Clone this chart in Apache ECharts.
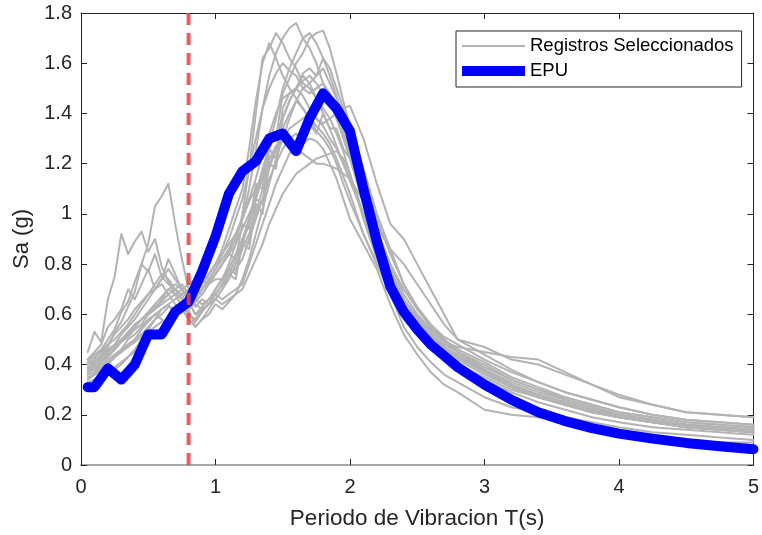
<!DOCTYPE html>
<html>
<head>
<meta charset="utf-8">
<script src="https://cdn.jsdelivr.net/npm/echarts@6/dist/echarts.min.js"></script>
<style>
html,body{margin:0;padding:0;background:#fff;}
#chart{width:762px;height:535px;}
</style>
</head>
<body>
<div id="chart"></div>
<script>
// ---- Data ----
const periods = [
  0.05,0.1,0.15,0.2,0.25,0.3,0.35,0.4,0.45,0.5,
  0.55,0.6,0.65,0.7,0.75,0.8,0.85,0.9,0.95,1.0,
  1.05,1.1,1.15,1.2,1.25,1.3,1.35,1.4,1.45,1.5,
  1.55,1.6,1.65,1.7,1.75,1.8,1.85,1.9,1.95,2.0,
  2.1,2.2,2.3,2.4,2.5,2.6,2.7,2.8,
  3.0,3.2,3.4,3.6,3.8,4.0,
  4.25,4.5,4.75,5.0];

const rec01 = [0.45,0.53,0.49,0.66,0.75,0.92,0.84,0.89,0.93,0.85, 0.90,0.79,0.73,0.68,0.63,0.60,0.57,0.61,0.64,0.66, 0.70,0.74,0.80,0.86,0.92,1.00,1.10,1.18,1.26,1.34, 1.40,1.45,1.42,1.38,1.33,1.30,1.26,1.20,1.12,1.05, 0.92,0.80,0.70,0.62,0.56,0.51,0.46,0.42, 0.36,0.31,0.27,0.24,0.21,0.19, 0.17,0.15,0.14,0.13];
const rec02 = [0.38,0.41,0.44,0.47,0.53,0.57,0.63,0.69,0.80,0.88, 1.03,1.07,1.12,0.96,0.82,0.70,0.63,0.66,0.64,0.70, 0.74,0.78,0.84,0.90,0.98,1.08,1.18,1.26,1.32,1.38, 1.45,1.50,1.55,1.52,1.46,1.40,1.34,1.27,1.20,1.13, 1.00,0.86,0.74,0.64,0.57,0.51,0.47,0.43, 0.37,0.31,0.27,0.24,0.21,0.19, 0.17,0.15,0.14,0.13];
const rec03 = [0.40,0.42,0.46,0.50,0.54,0.61,0.65,0.73,0.80,0.77, 0.84,0.75,0.72,0.70,0.66,0.62,0.65,0.68,0.72,0.76, 0.80,0.85,0.90,0.98,1.10,1.25,1.42,1.55,1.64,1.70, 1.74,1.76,1.70,1.66,1.60,1.52,1.45,1.38,1.30,1.22, 1.04,0.88,0.76,0.66,0.58,0.52,0.47,0.43, 0.38,0.32,0.28,0.25,0.22,0.20, 0.18,0.16,0.15,0.14];
const rec04 = [0.36,0.37,0.40,0.42,0.44,0.46,0.48,0.50,0.52,0.55, 0.58,0.60,0.63,0.62,0.64,0.66,0.68,0.70,0.73,0.76, 0.80,0.84,0.82,0.96,0.94,1.12,1.10,1.32,1.30,1.48, 1.54,1.60,1.64,1.70,1.72,1.73,1.66,1.56,1.45,1.35, 1.15,0.98,0.84,0.72,0.63,0.56,0.50,0.45, 0.38,0.32,0.27,0.24,0.21,0.19, 0.17,0.15,0.14,0.13];
const rec05 = [0.34,0.36,0.38,0.40,0.43,0.45,0.48,0.50,0.54,0.57, 0.60,0.62,0.64,0.60,0.62,0.65,0.60,0.63,0.66,0.70, 0.74,0.80,0.88,1.00,1.18,1.40,1.62,1.66,1.72,1.68, 1.62,1.58,1.52,1.50,1.46,1.42,1.38,1.32,1.25,1.16, 0.98,0.82,0.70,0.60,0.52,0.47,0.43,0.39, 0.34,0.29,0.25,0.22,0.19,0.17, 0.15,0.14,0.13,0.12];
const rec06 = [0.38,0.40,0.42,0.45,0.47,0.50,0.52,0.55,0.58,0.60, 0.62,0.66,0.70,0.68,0.66,0.60,0.58,0.62,0.64,0.68, 0.72,0.76,0.82,0.88,0.96,1.06,1.16,1.28,1.38,1.50, 1.58,1.64,1.70,1.72,1.68,1.62,1.55,1.47,1.38,1.28, 1.10,0.92,0.78,0.66,0.58,0.52,0.48,0.45, 0.40,0.34,0.30,0.27,0.24,0.21, 0.19,0.17,0.16,0.15];
const rec07 = [0.40,0.41,0.43,0.46,0.48,0.50,0.53,0.56,0.58,0.60, 0.62,0.64,0.66,0.68,0.70,0.72,0.74,0.75,0.74,0.78, 0.82,0.86,0.92,0.98,1.05,1.10,1.16,1.22,1.27,1.30, 1.34,1.36,1.38,1.40,1.38,1.36,1.38,1.40,1.42,1.43, 1.30,1.12,0.96,0.90,0.80,0.70,0.60,0.50, 0.47,0.42,0.40,0.36,0.32,0.28, 0.24,0.21,0.20,0.19];
const rec08 = [0.33,0.34,0.35,0.37,0.39,0.41,0.43,0.45,0.48,0.50, 0.52,0.55,0.58,0.60,0.62,0.64,0.66,0.64,0.66,0.68, 0.66,0.68,0.70,0.72,0.80,0.88,0.96,1.04,1.12,1.18, 1.24,1.26,1.28,1.30,1.29,1.26,1.20,1.14,1.06,0.98, 0.88,0.78,0.64,0.52,0.44,0.37,0.32,0.29, 0.22,0.20,0.19,0.17,0.15,0.13, 0.11,0.10,0.09,0.09];
const rec09 = [0.42,0.44,0.46,0.48,0.50,0.53,0.56,0.60,0.64,0.68, 0.70,0.72,0.68,0.64,0.62,0.58,0.55,0.58,0.62,0.66, 0.70,0.76,0.74,0.88,0.86,1.04,1.00,1.20,1.18,1.38, 1.45,1.50,1.56,1.58,1.55,1.62,1.58,1.50,1.42,1.35, 1.18,1.00,0.86,0.72,0.62,0.55,0.49,0.45, 0.39,0.34,0.30,0.26,0.23,0.20, 0.18,0.16,0.15,0.14];
const rec10 = [0.37,0.38,0.41,0.43,0.46,0.49,0.51,0.54,0.56,0.60, 0.63,0.65,0.68,0.70,0.72,0.68,0.70,0.72,0.76,0.80, 0.84,0.88,0.92,0.98,1.06,1.14,1.24,1.32,1.40,1.46, 1.48,1.50,1.47,1.42,1.38,1.35,1.30,1.26,1.20,1.14, 1.00,0.86,0.75,0.66,0.59,0.53,0.49,0.47, 0.45,0.43,0.42,0.37,0.32,0.27, 0.24,0.21,0.20,0.19];
const rec11 = [0.35,0.36,0.38,0.40,0.43,0.46,0.50,0.52,0.55,0.58, 0.60,0.58,0.56,0.60,0.65,0.68,0.70,0.68,0.72,0.74, 0.74,0.76,0.78,0.82,0.90,0.98,1.06,1.14,1.20,1.26, 1.30,1.32,1.28,1.36,1.32,1.40,1.34,1.34,1.26,1.22, 1.06,0.90,0.77,0.66,0.58,0.52,0.47,0.44, 0.38,0.33,0.29,0.26,0.23,0.20, 0.18,0.16,0.15,0.14];
const rec12 = [0.39,0.40,0.43,0.45,0.48,0.52,0.55,0.58,0.62,0.66, 0.70,0.74,0.78,0.74,0.70,0.66,0.68,0.72,0.76,0.80, 0.86,0.94,1.02,1.10,1.26,1.45,1.60,1.68,1.62,1.55, 1.50,1.46,1.42,1.38,1.35,1.32,1.28,1.22,1.15,1.08, 0.92,0.80,0.68,0.58,0.52,0.47,0.43,0.40, 0.35,0.30,0.27,0.24,0.21,0.19, 0.17,0.15,0.14,0.13];
const rec13 = [0.32,0.33,0.34,0.36,0.38,0.40,0.43,0.46,0.50,0.54, 0.58,0.62,0.64,0.66,0.68,0.62,0.55,0.58,0.60,0.64, 0.62,0.65,0.68,0.74,0.82,0.92,1.02,1.12,1.22,1.30, 1.38,1.45,1.50,1.52,1.55,1.58,1.52,1.46,1.40,1.32, 1.12,0.94,0.80,0.68,0.60,0.54,0.50,0.46, 0.41,0.35,0.31,0.27,0.24,0.21, 0.19,0.17,0.16,0.15];
const rec14 = [0.41,0.43,0.45,0.48,0.52,0.55,0.58,0.62,0.65,0.68, 0.72,0.76,0.74,0.70,0.68,0.70,0.72,0.74,0.72,0.76, 0.80,0.84,0.88,0.94,1.00,1.06,1.14,1.20,1.26,1.30, 1.28,1.26,1.24,1.22,1.20,1.20,1.19,1.18,1.16,1.14, 1.05,0.95,0.86,0.80,0.72,0.64,0.56,0.50, 0.44,0.38,0.33,0.29,0.26,0.23, 0.20,0.18,0.17,0.16];
const rec15 = [0.36,0.37,0.39,0.41,0.43,0.45,0.47,0.49,0.51,0.53, 0.55,0.57,0.58,0.60,0.62,0.63,0.64,0.62,0.64,0.66, 0.64,0.66,0.68,0.70,0.76,0.82,0.88,0.96,1.02,1.08, 1.12,1.16,1.18,1.20,1.22,1.23,1.24,1.25,1.22,1.16, 1.00,0.84,0.68,0.55,0.47,0.41,0.36,0.33, 0.27,0.23,0.21,0.19,0.17,0.15, 0.13,0.12,0.11,0.10];
const rec16 = [0.37,0.39,0.41,0.44,0.46,0.49,0.52,0.55,0.58,0.61, 0.64,0.67,0.70,0.72,0.70,0.67,0.66,0.70,0.74,0.78, 0.84,0.90,0.98,1.06,1.18,1.30,1.42,1.50,1.56,1.60, 1.57,1.55,1.50,1.48,1.50,1.52,1.48,1.42,1.34,1.25, 1.08,0.92,0.80,0.70,0.62,0.56,0.51,0.48, 0.42,0.37,0.33,0.29,0.26,0.23, 0.20,0.18,0.17,0.16];
const rec17 = [0.42,0.45,0.48,0.55,0.58,0.62,0.70,0.66,0.72,0.78, 0.70,0.74,0.82,0.76,0.70,0.65,0.60,0.62,0.64,0.68, 0.72,0.78,0.76,0.90,0.88,1.06,1.04,1.26,1.22,1.42, 1.48,1.50,1.53,1.55,1.52,1.48,1.44,1.38,1.32,1.24, 1.06,0.90,0.77,0.66,0.58,0.52,0.47,0.43, 0.37,0.32,0.28,0.25,0.22,0.19, 0.17,0.16,0.15,0.14];

const records = [rec01,rec02,rec03,rec04,rec05,rec06,rec07,rec08,rec09,rec10,rec11,rec12,rec13,rec14,rec15,rec16,rec17];

const epuT  = [0.05,0.1,0.2,0.3,0.4,0.5,0.6,0.7,0.8,0.9,1.0,1.1,1.2,1.3,1.4,1.5,1.6,1.7,1.8,1.9,2.0,2.1,2.2,2.3,2.4,2.5,2.6,2.7,2.8,3.0,3.2,3.4,3.6,3.8,4.0,4.25,4.5,4.75,5.0];
const epuSa = [0.31,0.31,0.385,0.34,0.40,0.52,0.52,0.61,0.65,0.77,0.91,1.08,1.17,1.21,1.30,1.32,1.25,1.38,1.48,1.42,1.33,1.10,0.89,0.71,0.61,0.54,0.48,0.435,0.39,0.32,0.26,0.21,0.175,0.147,0.125,0.105,0.088,0.075,0.063];

const cutoffT = 0.8;
const xTicks = [0,1,2,3,4,5];
const yTicks = [0,0.2,0.4,0.6,0.8,1,1.2,1.4,1.6,1.8];

const recordName = 'Registros Seleccionados';
const epuName = 'EPU';

// ---- Chart ----
const chart = echarts.init(document.getElementById('chart'), null, {renderer:'canvas'});
const axisColor = '#262626';
const grayColor = '#b3b3b3';
const blueColor = '#0000ff';
const font = 'Liberation Sans, Arial, Helvetica, sans-serif';

const series = [];
records.forEach(function(rec){
  series.push({
    name: recordName,
    type: 'line',
    data: periods.map(function(t,i){return [t, rec[i]];}),
    symbol: 'none',
    lineStyle: {color: grayColor, width: 2, join:'round', cap:'round'},
    itemStyle: {color: grayColor},
    z: 2,
    silent: true,
    animation: false
  });
});
series.push({
  name: epuName,
  type: 'line',
  data: epuT.map(function(t,i){return [t, epuSa[i]];}),
  symbol: 'none',
  lineStyle: {color: blueColor, width: 10, join:'round', cap:'round'},
  itemStyle: {color: blueColor},
  z: 3,
  silent: true,
  animation: false
});
series.push({
  name: 'cutoff',
  type: 'line',
  data: [[cutoffT, yTicks[yTicks.length-1]], [cutoffT, yTicks[0]]],
  symbol: 'none',
  lineStyle: {color: '#ec4040', width: 4, type: [12, 8], opacity: 0.85},
  z: 4,
  silent: true,
  animation: false
});

const option = {
  animation: false,
  backgroundColor: '#ffffff',
  textStyle: {fontFamily: font},
  grid: {left: 81, top: 13, right: 3, bottom: 68, containLabel: false},
  legend: {
    data: [
      {name: recordName, icon: 'path://M0,0 L0,0 M0,9 L63,9 L63,11 L0,11 Z M63,20 L63,20', itemStyle: {color: grayColor, borderWidth: 0}},
      {name: epuName, icon: 'path://M0,0 L0,0 M0,5 L63,5 L63,15 L0,15 Z M63,20 L63,20', itemStyle: {color: blueColor, borderWidth: 0}}
    ],
    orient: 'vertical',
    left: 456,
    top: 31,
    padding: [5, 8, 6, 6],
    itemGap: 5,
    itemWidth: 63,
    itemHeight: 20,
    itemStyle: {borderWidth: 0},
    backgroundColor: '#ffffff',
    borderColor: axisColor,
    borderWidth: 1,
    borderRadius: 0,
    selectedMode: false,
    textStyle: {fontSize: 18.5, color: '#000000', fontFamily: font, lineHeight: 20}
  },
  xAxis: [{
    type: 'value', min: xTicks[0], max: xTicks[xTicks.length-1], interval: 1,
    position: 'bottom',
    name: 'Periodo de Vibracion T(s)', nameLocation: 'middle', nameGap: 42,
    nameTextStyle: {fontSize: 22.5, color: axisColor, fontFamily: font},
    axisLine: {show: true, onZero: false, lineStyle: {color: '#a8a8a8', width: 2}},
    axisTick: {show: true, inside: true, length: 6, lineStyle: {color: axisColor, width: 1}},
    axisLabel: {fontSize: 20, color: axisColor, margin: 12, fontFamily: font},
    splitLine: {show: false}
  },{
    type: 'value', min: xTicks[0], max: xTicks[xTicks.length-1], interval: 1,
    position: 'top',
    axisLine: {show: true, onZero: false, lineStyle: {color: axisColor, width: 1}},
    axisTick: {show: true, inside: true, length: 6, lineStyle: {color: axisColor, width: 1}},
    axisLabel: {show: false},
    splitLine: {show: false}
  }],
  yAxis: [{
    type: 'value', min: yTicks[0], max: yTicks[yTicks.length-1], interval: 0.2,
    position: 'left',
    name: 'Sa (g)', nameLocation: 'middle', nameGap: 48,
    nameTextStyle: {fontSize: 22, color: axisColor, fontFamily: font},
    axisLine: {show: true, onZero: false, lineStyle: {color: axisColor, width: 1}},
    axisTick: {show: true, inside: true, length: 6, lineStyle: {color: axisColor, width: 1}},
    axisLabel: {fontSize: 20, color: axisColor, margin: 9, fontFamily: font},
    splitLine: {show: false}
  },{
    type: 'value', min: yTicks[0], max: yTicks[yTicks.length-1], interval: 0.2,
    position: 'right',
    axisLine: {show: true, onZero: false, lineStyle: {color: axisColor, width: 1}},
    axisTick: {show: true, inside: true, length: 6, lineStyle: {color: axisColor, width: 1}},
    axisLabel: {show: false},
    splitLine: {show: false}
  }],
  series: series
};
chart.setOption(option);
</script>
</body>
</html>
